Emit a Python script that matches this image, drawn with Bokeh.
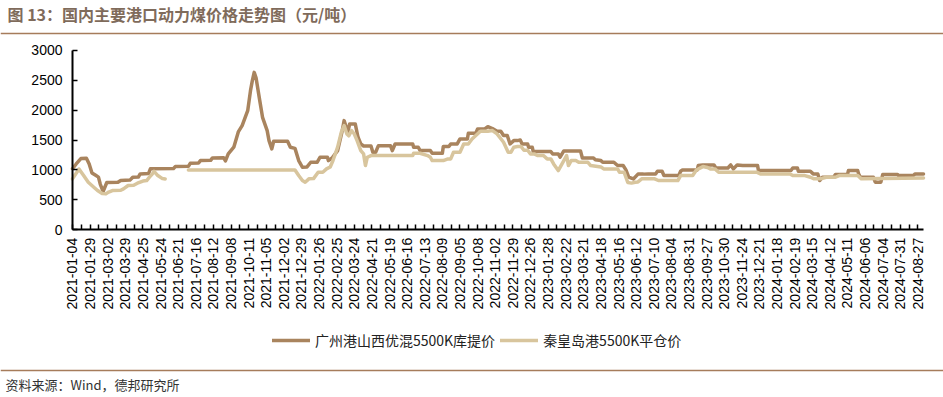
import math
from bokeh.plotting import figure
from bokeh.models import (Range1d, FixedTicker, Legend, LegendItem, LinearAxis, Label, Span)
from bokeh.embed import file_html
from bokeh.resources import INLINE

# ---------------- data ----------------
title_text = "图 13：国内主要港口动力煤价格走势图（元/吨）"
source_text = "资料来源：Wind，德邦研究所"
series_names = ["广州港山西优混5500K库提价", "秦皇岛港5500K平仓价"]

x_tick_labels = [
    "2021-01-04", "2021-01-29", "2021-03-02", "2021-03-29", "2021-04-25", "2021-05-24",
    "2021-06-21", "2021-07-16", "2021-08-12", "2021-09-08", "2021-10-11", "2021-11-05",
    "2021-12-02", "2021-12-29", "2022-01-26", "2022-02-25", "2022-03-24", "2022-04-21",
    "2022-05-19", "2022-06-16", "2022-07-13", "2022-08-09", "2022-09-05", "2022-10-08",
    "2022-11-02", "2022-11-29", "2022-12-26", "2023-01-28", "2023-02-22", "2023-03-21",
    "2023-04-18", "2023-05-16", "2023-06-12", "2023-07-10", "2023-08-04", "2023-08-31",
    "2023-09-27", "2023-10-30", "2023-11-24", "2023-12-21", "2024-01-18", "2024-02-19",
    "2024-03-15", "2024-04-12", "2024-05-11", "2024-06-06", "2024-07-04", "2024-07-31",
    "2024-08-27",
]
label_step = 19          # observations between two labelled dates
last_index = 918         # index of the last observation
y_ticks = [0, 500, 1000, 1500, 2000, 2500, 3000]
y_max = 3000

# (observation index, price) for 广州港山西优混5500K库提价
gz_points = [
    (0, 1020), (4, 1100), (9, 1190), (15, 1195), (18, 1100), (21, 950), (25, 910), (28, 880),
    (30, 760), (33, 640), (37, 790), (49, 795), (52, 825), (62, 830), (65, 878), (71, 880),
    (73, 934), (82, 940), (84, 1018), (109, 1025), (111, 1056), (125, 1060), (127, 1111),
    (136, 1115), (138, 1156), (149, 1160), (151, 1201), (163, 1205), (165, 1150), (168, 1268),
    (174, 1379), (179, 1640), (183, 1740), (189, 1990), (192, 2324), (194, 2491), (196, 2630),
    (198, 2540), (202, 2158), (205, 1879), (210, 1657), (212, 1490), (215, 1352), (217, 1479),
    (232, 1479), (235, 1379), (240, 1360), (244, 1156), (248, 1045), (253, 1050), (257, 1128),
    (264, 1130), (267, 1212), (275, 1212), (276, 1156), (280, 1200), (286, 1323), (291, 1657),
    (293, 1824), (297, 1629), (299, 1769), (305, 1769), (308, 1546), (311, 1434), (314, 1400),
    (322, 1400), (324, 1296), (327, 1296), (330, 1406), (343, 1406), (345, 1323), (348, 1434),
    (367, 1434), (368, 1379), (373, 1379), (375, 1323), (386, 1323), (388, 1279), (399, 1279),
    (400, 1390), (406, 1390), (408, 1434), (415, 1434), (418, 1518), (426, 1518), (427, 1613),
    (435, 1613), (437, 1685), (445, 1690), (448, 1722), (453, 1690), (458, 1646), (462, 1646),
    (465, 1574), (469, 1574), (472, 1434), (476, 1490), (480, 1490), (483, 1500), (485, 1434),
    (491, 1434), (492, 1379), (496, 1379), (497, 1306), (516, 1306), (518, 1268), (524, 1268),
    (526, 1212), (530, 1318), (548, 1318), (550, 1200), (562, 1200), (564, 1170), (570, 1156),
    (572, 1128), (584, 1128), (588, 1073), (594, 1073), (597, 1000), (600, 880), (605, 850),
    (610, 930), (616, 930), (621, 934), (629, 934), (631, 978), (636, 978), (638, 906),
    (654, 906), (656, 978), (658, 1000), (674, 1000), (675, 1073), (680, 1084), (692, 1084),
    (694, 1033), (707, 1033), (710, 1084), (713, 1017), (717, 1084), (723, 1073), (739, 1073),
    (740, 989), (775, 989), (777, 1033), (782, 1033), (783, 978), (796, 978), (799, 934),
    (804, 934), (806, 823), (809, 878), (821, 878), (823, 923), (836, 923), (837, 989),
    (847, 989), (848, 934), (850, 878), (864, 878), (866, 795), (872, 795), (874, 923),
    (890, 923), (891, 906), (907, 906), (909, 934), (918, 934),
]

NaN = float("nan")
# (observation index, price) for 秦皇岛港5500K平仓价 (NaN = no data)
qhd_points = [
    (0, 850), (7, 1015), (12, 906), (17, 795), (23, 711), (27, 656), (32, 605), (36, 600),
    (39, 630), (43, 656), (52, 660), (55, 684), (60, 740), (66, 745), (70, 778), (76, 815),
    (80, 823), (83, 880), (86, 930), (88, 975), (92, 906), (97, 855), (100, 850), (112, NaN),
    (125, 1000), (240, 1000), (244, 906), (248, 823), (251, 795), (255, 851), (260, 855),
    (265, 962), (270, 962), (274, 1018), (278, 1050), (281, 1157), (286, 1380), (290, 1630),
    (293, 1740), (296, 1600), (298, 1570), (301, 1657), (304, 1600), (307, 1490), (311, 1323),
    (314, 1268), (316, 1073), (318, 1212), (322, 1240), (367, 1240), (368, 1279), (375, 1279),
    (383, 1240), (386, 1212), (388, 1156), (400, 1156), (405, 1184), (408, 1184), (411, 1296),
    (418, 1296), (422, 1434), (427, 1434), (431, 1518), (440, 1646), (448, 1646), (453, 1657),
    (458, 1602), (465, 1462), (470, 1296), (473, 1296), (476, 1379), (480, 1390), (484, 1390),
    (487, 1329), (491, 1329), (494, 1268), (498, 1268), (502, 1240), (508, 1240), (512, 1184),
    (516, 1184), (519, 1100), (524, 989), (530, 1156), (533, 1240), (535, 1073), (538, 1156),
    (543, 1156), (546, 1128), (556, 1128), (559, 1073), (570, 1050), (573, 1017), (588, 1017),
    (590, 962), (595, 962), (599, 790), (603, 780), (607, 795), (610, 800), (614, 851),
    (628, 851), (632, 823), (653, 823), (656, 906), (669, 906), (673, 1000), (680, 1056),
    (685, 1040), (688, 1017), (693, 1017), (697, 962), (738, 962), (742, 934), (774, 934),
    (777, 906), (790, 906), (796, 878), (800, 851), (807, 851), (813, 878), (823, 878),
    (827, 906), (847, 906), (851, 851), (918, 865),
]

# ---------------- layout (pixels) ----------------
W, H = 943, 397
AX_LEFT_PX, AX_RIGHT_PX = 72.0, 923.0     # x pixel of first / last observation
AX_ZERO_PX, AX_TOP_PX = 229.3, 49.7       # y pixel of 0 and of y_max

px_per_idx = (AX_RIGHT_PX - AX_LEFT_PX) / last_index
px_per_val = (AX_ZERO_PX - AX_TOP_PX) / y_max
x_start = -AX_LEFT_PX / px_per_idx
x_end = last_index + (W - AX_RIGHT_PX) / px_per_idx
y_end = AX_ZERO_PX / px_per_val
y_start = -(H - AX_ZERO_PX) / px_per_val

BROWN = "#A9845E"
LIGHT = "#D8C59D"
RULE = "#A67C5B"
CJK = "Noto Sans CJK SC"

p = figure(width=W, height=H, x_range=Range1d(x_start, x_end), y_range=Range1d(y_start, y_end),
           toolbar_location=None, output_backend="svg",
           x_axis_location=None, y_axis_location=None,
           min_border=0, outline_line_color=None, background_fill_color="white",
           border_fill_color="white")
p.xgrid.visible = False
p.ygrid.visible = False

gz_x = [a for a, b in gz_points]
gz_y = [b for a, b in gz_points]
qhd_x = [a for a, b in qhd_points]
qhd_y = [b for a, b in qhd_points]

r1 = p.line(gz_x, gz_y, line_color=BROWN, line_width=3.5, line_join="round", line_cap="round")
r2 = p.line(qhd_x, qhd_y, line_color=LIGHT, line_width=3.5, line_join="round", line_cap="round")

# ---------------- axes ----------------
major = [i * label_step for i in range(len(x_tick_labels))]
minor = [m + label_step / 2 for m in major if m + label_step / 2 <= last_index]

xa = LinearAxis(fixed_location=0, bounds=(0, last_index))
xa.ticker = FixedTicker(ticks=major, minor_ticks=minor)
xa.major_label_overrides = {t: lab for t, lab in zip(major, x_tick_labels)}
xa.major_label_orientation = math.pi / 2
xa.major_label_text_font = "Liberation Sans"
xa.major_label_text_font_size = "14px"
xa.major_label_text_color = "black"
xa.major_label_standoff = 8
xa.major_tick_in = 5
xa.major_tick_out = 0
xa.minor_tick_in = 5
xa.minor_tick_out = 0
xa.axis_line_width = 2
xa.major_tick_line_width = 1.5
xa.minor_tick_line_width = 1.5
p.add_layout(xa, "below")

ya = LinearAxis(fixed_location=0, bounds=(0, y_max))
ya.ticker = FixedTicker(ticks=y_ticks, minor_ticks=[])
ya.major_label_text_font = "Liberation Sans"
ya.major_label_text_font_size = "14px"
ya.major_label_text_color = "black"
ya.major_label_standoff = 10
ya.major_tick_in = 5
ya.major_tick_out = 0
ya.minor_tick_in = 0
ya.minor_tick_out = 0
ya.axis_line_width = 2
ya.major_tick_line_width = 1.5
p.add_layout(ya, "left")

# ---------------- legend ----------------
legend = Legend(
    items=[LegendItem(label=series_names[0], renderers=[r1]),
           LegendItem(label=series_names[1], renderers=[r2])],
    location=(272, H - 350), orientation="horizontal",
    glyph_width=38, glyph_height=16, label_height=16, label_standoff=5, spacing=5,
    padding=0, margin=0, border_line_color=None, background_fill_alpha=0,
    label_text_font=CJK, label_text_font_size="14px", label_text_color="#222222",
)
p.add_layout(legend)

# ---------------- header / footer ----------------
p.add_layout(Label(x=7, y=H - 13, x_units="screen", y_units="screen", text=title_text,
                   text_font=CJK, text_font_size="16px", text_font_style="bold",
                   text_color="#7F6B5B", text_baseline="middle", text_align="left"))
p.add_layout(Span(location=H - 33, location_units="screen", dimension="width",
                  line_color=RULE, line_width=1.5))
p.add_layout(Span(location=H - 370, location_units="screen", dimension="width",
                  line_color=RULE, line_width=1.5))
p.add_layout(Label(x=5, y=H - 384, x_units="screen", y_units="screen", text=source_text,
                   text_font=CJK, text_font_size="13px", text_color="#333333",
                   text_baseline="middle", text_align="left"))

open("out.html", "w").write(file_html(p, INLINE))
